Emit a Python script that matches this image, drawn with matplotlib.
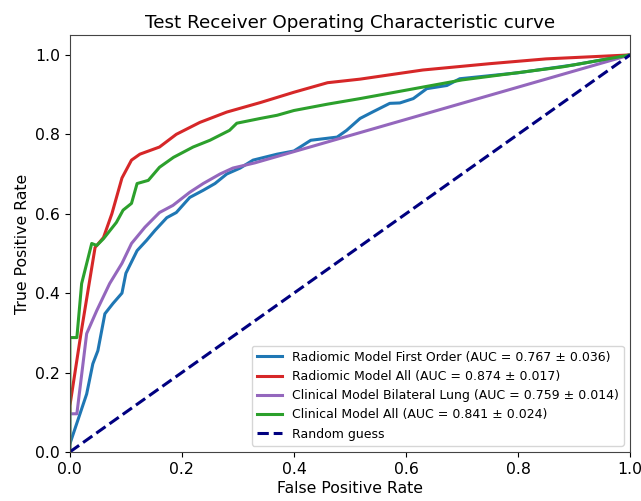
import matplotlib
matplotlib.use("Agg")
import matplotlib.pyplot as plt

# Radiomic Model First Order
fpr_rfo = [0.0, 0.03, 0.041, 0.05, 0.0625, 0.077, 0.093, 0.10, 0.12, 0.137, 0.152, 0.173, 0.19, 0.214,
           0.238, 0.259, 0.28, 0.304, 0.327, 0.37, 0.40, 0.43, 0.477, 0.494, 0.518, 0.54, 0.571, 0.589,
           0.613, 0.637, 0.673, 0.696, 0.80, 0.90, 1.0]
tpr_rfo = [0.02, 0.146, 0.222, 0.255, 0.348, 0.374, 0.40, 0.45, 0.507, 0.533, 0.558, 0.59, 0.603, 0.641,
           0.659, 0.676, 0.70, 0.715, 0.735, 0.75, 0.758, 0.785, 0.793, 0.81, 0.84, 0.856, 0.878, 0.879,
           0.89, 0.915, 0.923, 0.94, 0.955, 0.975, 1.0]

# Radiomic Model All
fpr_ra = [0.0, 0.0, 0.02, 0.045, 0.06, 0.075, 0.093, 0.11, 0.125, 0.16, 0.19, 0.232, 0.28, 0.34, 0.40,
          0.46, 0.518, 0.63, 0.75, 0.85, 1.0]
tpr_ra = [0.10, 0.116, 0.30, 0.515, 0.54, 0.60, 0.69, 0.735, 0.75, 0.768, 0.80, 0.83, 0.856, 0.88, 0.906,
          0.93, 0.939, 0.962, 0.978, 0.99, 1.0]

# Clinical Model Bilateral Lung
fpr_cbl = [0.0, 0.0, 0.0125, 0.03, 0.048, 0.071, 0.093, 0.11, 0.134, 0.16, 0.184, 0.214, 0.238, 0.268,
           0.291, 0.33, 1.0]
tpr_cbl = [0.0, 0.096, 0.096, 0.298, 0.356, 0.424, 0.475, 0.525, 0.566, 0.603, 0.621, 0.654, 0.676, 0.70,
           0.715, 0.728, 1.0]

# Clinical Model All
fpr_ca = [0.0, 0.0, 0.0125, 0.021, 0.039, 0.048, 0.06, 0.083, 0.095, 0.11, 0.12, 0.14, 0.16, 0.185, 0.22,
          0.25, 0.285, 0.298, 0.34, 0.37, 0.40, 0.46, 0.518, 0.70, 0.88, 1.0]
tpr_ca = [0.0, 0.288, 0.288, 0.424, 0.525, 0.52, 0.537, 0.578, 0.609, 0.626, 0.676, 0.684, 0.717, 0.742,
          0.768, 0.785, 0.81, 0.828, 0.84, 0.848, 0.86, 0.876, 0.89, 0.937, 0.97, 1.0]

labels = [
    "Radiomic Model First Order (AUC = 0.767 ± 0.036)",
    "Radiomic Model All (AUC = 0.874 ± 0.017)",
    "Clinical Model Bilateral Lung (AUC = 0.759 ± 0.014)",
    "Clinical Model All (AUC = 0.841 ± 0.024)",
]
colors = ["tab:blue", "tab:red", "tab:purple", "tab:green"]

fig = plt.figure(figsize=(6.41, 5.01), dpi=100)
ax = fig.add_axes([0.109, 0.098, 0.874, 0.832])

for fx, ty, lab, col in zip([fpr_rfo, fpr_ra, fpr_cbl, fpr_ca], [tpr_rfo, tpr_ra, tpr_cbl, tpr_ca], labels, colors):
    ax.plot(fx, ty, color=col, lw=2.2, label=lab)
ax.plot([0, 1], [0, 1], color="navy", lw=2.2, linestyle="--", label="Random guess")

ax.set_xlim(0.0, 1.0)
ax.set_ylim(0.0, 1.05)
ax.set_xlabel("False Positive Rate", fontsize=11.3, labelpad=3)
ax.set_ylabel("True Positive Rate", fontsize=11.3)
ax.set_title("Test Receiver Operating Characteristic curve", fontsize=13.2, pad=5)
ax.tick_params(labelsize=11.3)
for s in ax.spines.values():
    s.set_color("#444444")
ax.legend(loc="lower right", fontsize=9)

fig.savefig("out.png", dpi=100)
